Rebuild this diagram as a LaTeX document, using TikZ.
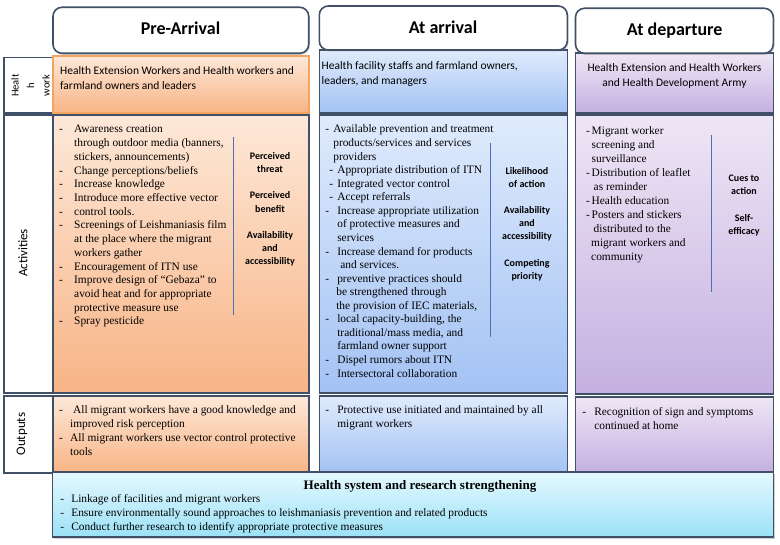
\documentclass[tikz,border=0pt]{standalone}
\usepackage{fontspec}
\setmainfont{Liberation Serif}
\newfontfamily\carlito{Carlito}
\usetikzlibrary{fit,shadows}

\definecolor{boxline}{RGB}{64,80,102}
\definecolor{orT}{HTML}{FDE8D8}
\definecolor{orB}{HTML}{F8B486}
\definecolor{blT}{HTML}{E0EBFC}
\definecolor{blB}{HTML}{A3C2F4}
\definecolor{puT}{HTML}{EEE6F5}
\definecolor{puB}{HTML}{C5B0E1}
\definecolor{cyT}{HTML}{E5F9FE}
\definecolor{cyB}{HTML}{9CE1F7}
\definecolor{orline}{HTML}{F4A45E}
\definecolor{sepline}{HTML}{4A70B8}

\newcommand\dsh[1]{\makebox[#1][l]{-}}
\newcommand\indt[1]{\hspace*{#1}}
\newcommand\cellbox[6]{\node[#6, fit={(#2,#3) (#4,#5)}] (#1) {};}

\tikzset{
  cell/.style={draw=boxline, line width=1.6pt, inner sep=0pt},
  whitecell/.style={cell, fill=white},
  orcell/.style={cell, top color=orT, bottom color=orB},
  orhead/.style={cell, draw=orline, top color=orT, bottom color=orB},
  blcell/.style={cell, top color=blT, bottom color=blB},
  pucell/.style={cell, top color=puT, bottom color=puB},
  cycell/.style={cell, top color=cyT, bottom color=cyB,
    drop shadow={shadow xshift=1.5pt, shadow yshift=-1.8pt, opacity=0.3, fill=black!60}},
  hdr/.style={cell, fill=white, rounded corners=9pt,
    drop shadow={shadow xshift=1.2pt, shadow yshift=-1.5pt, opacity=0.3, fill=black!60}},
  hdrtext/.style={font=\carlito\bfseries\fontsize{18}{21}\selectfont, anchor=base, inner sep=0pt},
  sidetext/.style={font=\carlito\fontsize{13}{15}\selectfont, rotate=90, inner sep=0pt},
  worktext/.style={font=\carlito\fontsize{11.5}{14.6}\selectfont, inner sep=0pt, align=left, anchor=north west},
  body/.style={align=left, anchor=north west, inner sep=0pt},
  lbl/.style={font=\carlito\bfseries\fontsize{10}{13.1}\selectfont, align=center, anchor=north, inner sep=0pt},
  sep/.style={draw=sepline, line width=0.8pt},
}

\begin{document}
\begin{tikzpicture}[x=1pt,y=-1pt]
\useasboundingbox (0,0) rectangle (780,545);
\fill[white] (0,0) rectangle (780,545);

% left label column
\cellbox{lwork}{4}{57.5}{53}{113}{whitecell}
\cellbox{lact}{4}{115}{53}{393}{whitecell}
\cellbox{lout}{4}{396}{53}{473}{whitecell}

% Pre-Arrival column
\cellbox{pwork}{53}{56}{308.7}{113}{orhead}
\cellbox{pact}{53}{115}{308.7}{393}{orcell}
\cellbox{pout}{53}{396}{308.7}{472}{orcell}

% At arrival column
\cellbox{awork}{319.3}{50}{567.3}{113}{blcell}
\cellbox{aact}{319.3}{115}{567.3}{393}{blcell}
\cellbox{aout}{319.3}{396}{567.3}{472}{blcell}

% At departure column
\cellbox{dwork}{575.5}{53.3}{773.3}{113}{pucell}
\cellbox{dact}{575.5}{115}{773.3}{394}{pucell}
\cellbox{dout}{575.5}{397}{773.3}{472}{pucell}

% bottom box
\cellbox{bot}{52.5}{472}{773.3}{537}{cycell}

% headers
\cellbox{hpre}{53}{7.3}{308.7}{53.3}{hdr}
\cellbox{harr}{319.3}{6}{567.3}{50}{hdr}
\cellbox{hdep}{575.5}{8.3}{773.3}{53.3}{hdr}
\node[hdrtext] (tpre) at (180.5,34.3) {Pre-Arrival};
\node[hdrtext] (tarr) at (443,33.3) {At arrival};
\node[hdrtext] (tdep) at (674.7,36) {At departure};

% side labels
\node[sidetext] (sact) at (23,253) {Activities};
\node[sidetext] (sout) at (22,434) {Outputs};
\node[sidetext, font=\carlito\fontsize{10.5}{15.5}\selectfont, align=center] (swork) at (30.5,85.5) {Healt\\h\\work};

% health work row texts
\node[worktext] (wpre) at (60,64.2) {\strut Health Extension Workers and Health workers and\\farmland owners and leaders};
\node[worktext] (warr) at (321.5,59.2) {\strut Health facility staffs and farmland owners,\\leaders, and managers};
\node[worktext, font=\carlito\fontsize{11.5}{15}\selectfont, align=center, anchor=north] (wdep) at (674.5,61.2) {\strut Health Extension and Health Workers\\and Health Development Army};

% Pre-Arrival activities
\node[body, font=\fontsize{11.4}{13.71}\selectfont] (ptxt) at (59,123.2) {\strut\dsh{15pt}Awareness creation\\
\indt{15pt}through outdoor media (banners,\\
\indt{15pt}stickers, announcements)\\
\dsh{15pt}Change perceptions/beliefs\\
\dsh{15pt}Increase knowledge\\
\dsh{15pt}Introduce more effective vector\\
\dsh{15pt}control tools.\\
\dsh{15pt}Screenings of Leishmaniasis film\\
\indt{15pt}at the place where the migrant\\
\indt{15pt}workers gather\\
\dsh{15pt}Encouragement of ITN use\\
\dsh{15pt}Improve design of ``Gebaza'' to\\
\indt{15pt}avoid heat and for appropriate\\
\indt{15pt}protective measure use\\
\dsh{15pt}Spray pesticide};
\draw[sep] (233,137) -- (233,315);
\node[lbl] (pl1) at (270,150.3) {\strut Perceived\\threat};
\node[lbl] (pl2) at (270,189.6) {\strut Perceived\\benefit};
\node[lbl] (pl3) at (270,228.9) {\strut Availability\\and\\accessibility};

% Pre-Arrival outputs
\node[body, font=\fontsize{11.4}{13.7}\selectfont] (potxt) at (59,404.2) {\strut\dsh{14pt}All migrant workers have a good knowledge and\\
\indt{11pt}improved risk perception\\
\dsh{11pt}All migrant workers use vector control protective\\
\indt{11pt}tools};

% At arrival activities
\node[body, font=\fontsize{11.4}{13.56}\selectfont] (atxt) at (325.1,123.3) {\strut\dsh{8pt}Available prevention and treatment\\
\indt{8pt}products/services and services\\
\indt{8pt}providers\\
\indt{4pt}\dsh{8pt}Appropriate distribution of ITN\\
\indt{4pt}\dsh{8pt}Integrated vector control\\
\indt{4pt}\dsh{8pt}Accept referrals\\
\dsh{12pt}Increase appropriate utilization\\
\indt{12pt}of protective measures and\\
\indt{12pt}services\\
\dsh{12pt}Increase demand for products\\
\indt{15pt}and services.\\
\dsh{12pt}preventive practices should\\
\indt{11pt}be strengthened through\\
\indt{11pt}the provision of IEC materials,\\
\dsh{12pt}local capacity-building, the\\
\indt{12pt}traditional/mass media, and\\
\indt{12pt}farmland owner support\\
\dsh{12pt}Dispel rumors about ITN\\
\dsh{12pt}Intersectoral collaboration};
\draw[sep] (490,143) -- (490,337);
\node[lbl] (al1) at (527,165) {\strut Likelihood\\of action};
\node[lbl] (al2) at (527,204) {\strut Availability\\and\\accessibility};
\node[lbl] (al3) at (527,257) {\strut Competing\\priority};

% At arrival outputs
\node[body, font=\fontsize{11.4}{13.7}\selectfont] (aotxt) at (325.1,404.2) {\strut\dsh{12pt}Protective use initiated and maintained by all\\
\indt{12pt}migrant workers};

% At departure activities
\node[body, font=\fontsize{11.4}{14}\selectfont] (dtxt) at (586,125) {\strut\dsh{5.5pt}Migrant worker\\
\indt{5.5pt}screening and\\
\indt{5.5pt}surveillance\\
\dsh{5.5pt}Distribution of leaflet\\
\indt{7.5pt}as reminder\\
\dsh{5.5pt}Health education\\
\dsh{5.5pt}Posters and stickers\\
\indt{7.5pt}distributed to the\\
\indt{5pt}migrant workers and\\
\indt{5pt}community};
\draw[sep] (711,135) -- (711,292);
\node[lbl] (dl1) at (744,172) {\strut Cues to\\action};
\node[lbl] (dl2) at (744,212) {\strut Self-\\efficacy};

% At departure outputs
\node[body, font=\fontsize{11.4}{14}\selectfont] (dotxt) at (582.1,406) {\strut\dsh{12pt}Recognition of sign and symptoms\\
\indt{12pt}continued at home};

% bottom box texts
\node[font=\bfseries\fontsize{13}{15}\selectfont, anchor=base, inner sep=0pt] (btitle) at (420,489.3) {Health system and research strengthening};
\node[body, font=\fontsize{11.4}{14.3}\selectfont] (btxt) at (60.1,491.8) {\strut\dsh{11pt}Linkage of facilities and migrant workers\\
\dsh{11pt}Ensure environmentally sound approaches to leishmaniasis prevention and related products\\
\dsh{11pt}Conduct further research to identify appropriate protective measures};
\end{tikzpicture}
\end{document}
